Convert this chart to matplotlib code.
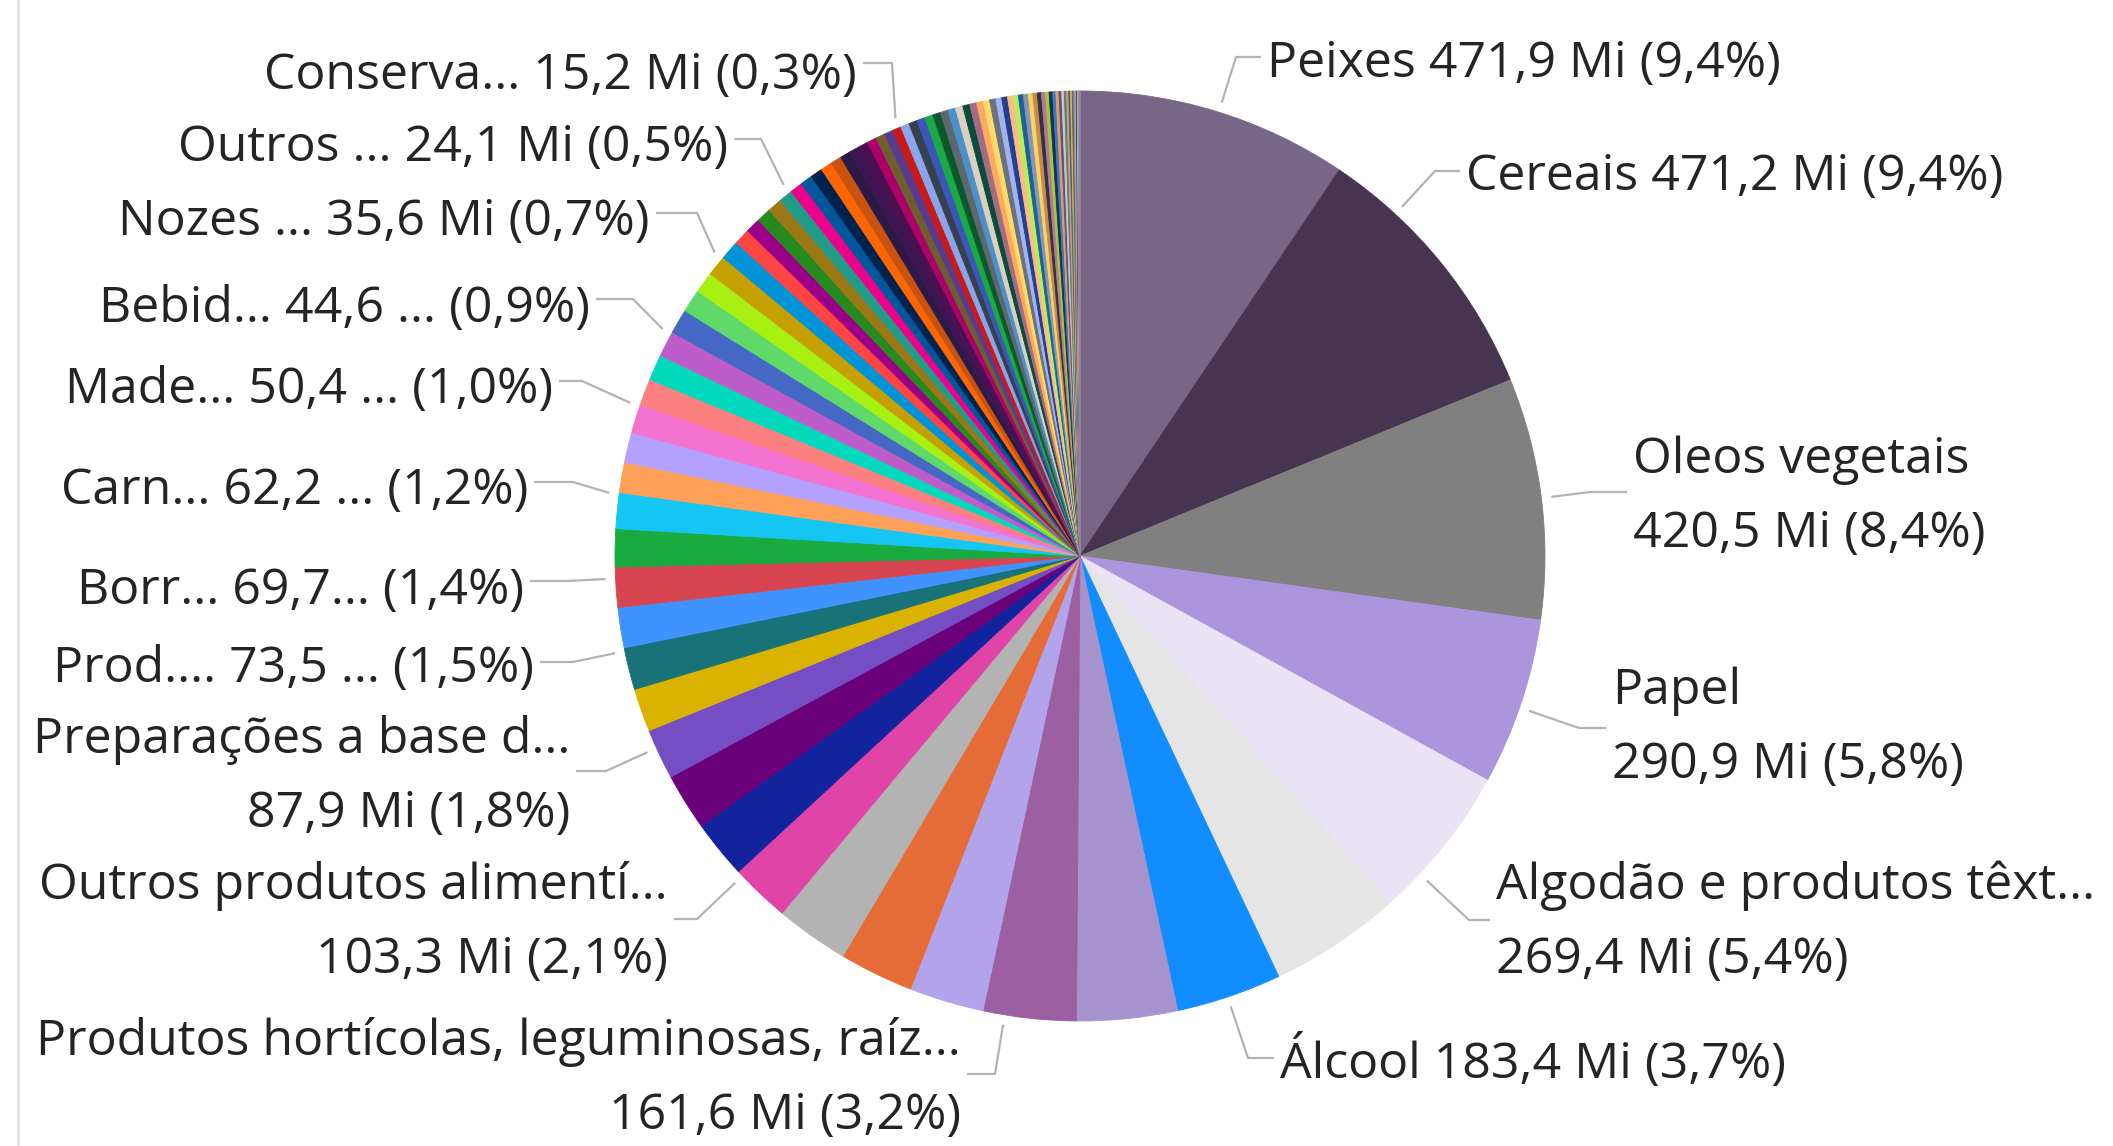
import math
import matplotlib
matplotlib.use('Agg')
import matplotlib.pyplot as plt

# slice values (Mi), largest first, clockwise from 12 o'clock
values = [471.9, 471.2, 420.5, 290.9, 269.4, 230.0, 183.4, 175.0, 161.6, 130.0,
          129.0, 128.0, 103.3, 101.0, 99.0, 87.9, 75.0, 73.5, 70.0, 69.7,
          66.0, 62.2, 53.0, 52.0, 50.4, 46.0, 45.0, 44.6, 43.0, 40.0,
          37.0, 35.6, 34.0, 28.0, 26.0, 25.5, 25.0, 24.1, 22.0, 21.5,
          21.0, 20.0, 19.0, 18.0, 17.5, 17.0, 16.5, 16.0, 15.5, 15.2,
          15.0, 14.9, 14.4, 14.3, 13.8, 13.7, 13.1, 12.9, 12.3, 12.1,
          11.7, 11.0, 10.9, 10.2, 10.1, 9.5, 9.3, 8.7, 8.5, 7.9,
          7.7, 7.1, 6.9, 6.3, 6.1, 5.6, 5.3, 4.7, 4.5, 3.9,
          3.7, 3.1, 2.9, 2.6, 2.2, 2.0, 1.8, 1.3, 1.1, 0.8,
          0.6, 0.4, 0.3, 0.2, 0.1]

colors = ['#786687', '#463450', '#808080', '#ab95dc', '#e9e3f5', '#e5e5e5', '#118dff', '#a692cd', '#9b5fa2', '#b3a3eb',
          '#e66c37', '#b3b3b3', '#e044a7', '#12239e', '#6b007b', '#744ec2', '#d9b300', '#197278', '#4092ff', '#d64550',
          '#1aab40', '#15c6f4', '#ffa058', '#b3a0ff', '#f472d0', '#fd8080', '#01d9bd', '#be5dc9', '#4668c5', '#5ed96a',
          '#a8ef12', '#c4a000', '#0093d5', '#ff4444', '#990087', '#278a1e', '#9c7715', '#229b89', '#ec008c', '#01579b',
          '#00224f', '#ff6600', '#c8520f', '#2e1845', '#3d1554', '#4b1050', '#ad0068', '#6c5f2d', '#5a3a8c', '#c8191b',
          '#8aa6ea', '#37404f', '#3a56b8', '#1aaa45', '#0b582c', '#5e6770', '#4b91c9', '#dcd0be', '#0c4a3b', '#a26d82',
          '#ffa95e', '#ffda6b', '#6a737d', '#a0b5f0', '#233f8e', '#ffb888', '#b9ee5a', '#1f5f9c', '#8898ac', '#f3d36a',
          '#c78a4a', '#2f3342', '#b47994', '#9ccc3c', '#1a2e4d', '#3a78c2', '#e0a060', '#6f4a7a', '#c0c8d8', '#4a8a5a',
          '#f08a8a', '#2a6a8a', '#d8b840', '#7a5a3a', '#5a9ad8', '#c8a0d0', '#3a3a5a', '#a0d080', '#e07030', '#80a0c0',
          '#b0b070', '#705070', '#60c0b0', '#d0d0a0', '#9070b0']

# labelled slices: index into values, label template
label_idx = [0, 1, 2, 3, 4, 6, 49, 37, 31, 27, 24, 21, 19, 17, 15, 12, 8]
label_tpl = ['Peixes {v} Mi ({p})',
             'Cereais {v} Mi ({p})',
             'Oleos vegetais\n{v} Mi ({p})',
             'Papel\n{v} Mi ({p})',
             'Algodão e produtos têxt...\n{v} Mi ({p})',
             'Álcool {v} Mi ({p})',
             'Conserva... {v} Mi ({p})',
             'Outros ... {v} Mi ({p})',
             'Nozes ... {v} Mi ({p})',
             'Bebid... {v} ... ({p})',
             'Made... {v} ... ({p})',
             'Carn... {v} ... ({p})',
             'Borr... {v}... ({p})',
             'Prod.... {v} ... ({p})',
             'Preparações a base d...\n{v} Mi ({p})',
             'Outros produtos alimentí...\n{v} Mi ({p})',
             'Produtos hortícolas, leguminosas, raíz...\n{v} Mi ({p})']

# layout (image pixels, y down): text x, text y, elbow x, elbow y
label_pos = [(1267, 64, 1236, 57), (1466, 177, 1435, 171), (1633, 497, 1590, 492),
             (1612, 728, 1579, 728), (1496, 923, 1469, 920), (1280, 1063, 1248, 1058),
             (857, 76, 892, 63), (728, 148, 761, 139), (650, 222, 697, 213),
             (590, 309, 633, 299), (553, 390, 582, 381), (528, 491, 573, 482),
             (524, 591, 566, 581), (534, 669, 573, 662), (570, 777, 606, 771),
             (668, 923, 697, 919), (961, 1079, 995, 1074)]

W, H = 2113, 1146
cx, cy, R = 1080, 556, 465

plt.rcParams['font.family'] = ['Open Sans', 'DejaVu Sans']
fig = plt.figure(figsize=(W / 100, H / 100), dpi=100)
ax = fig.add_axes([0, 0, 1, 1])

wedges, _ = ax.pie(values, colors=colors, startangle=90, counterclock=False,
                   center=(cx, H - cy), radius=R,
                   wedgeprops=dict(linewidth=0.6))
for w, c in zip(wedges, colors):
    w.set_edgecolor(c)

ax.set_xlim(0, W)
ax.set_ylim(0, H)
ax.set_aspect('equal')
ax.axis('off')
ax.axvline(18, color='#e1e1e1', lw=2)

total = sum(values)

def fmt(x):
    return f'{x:.1f}'.replace('.', ',')

for i, tpl, (tx, ty, ex, ey) in zip(label_idx, label_tpl, label_pos):
    w = wedges[i]
    ey_up = H - ey
    a = math.degrees(math.atan2(ey_up - (H - cy), ex - cx))
    mid = (w.theta1 + w.theta2) / 2
    while a - mid > 180:
        a -= 360
    while a - mid < -180:
        a += 360
    a = min(max(a, w.theta1 + 0.2), w.theta2 - 0.2)
    sx = cx + (R + 10) * math.cos(math.radians(a))
    sy = (H - cy) + (R + 10) * math.sin(math.radians(a))
    right = tx > cx
    endx = tx - 6 if right else tx + 6
    ax.plot([sx, ex, endx], [sy, ey_up, ey_up], color='#b3b3b3', lw=1.6,
            solid_capstyle='butt')
    txt = tpl.format(v=fmt(values[i]), p=fmt(values[i] / total * 100) + '%')
    ax.text(tx, H - ty, txt, ha='left' if right else 'right', va='center',
            fontsize=36, color='#252423', linespacing=1.66,
            multialignment='left' if right else 'right')

fig.savefig('out.png', dpi=100)
